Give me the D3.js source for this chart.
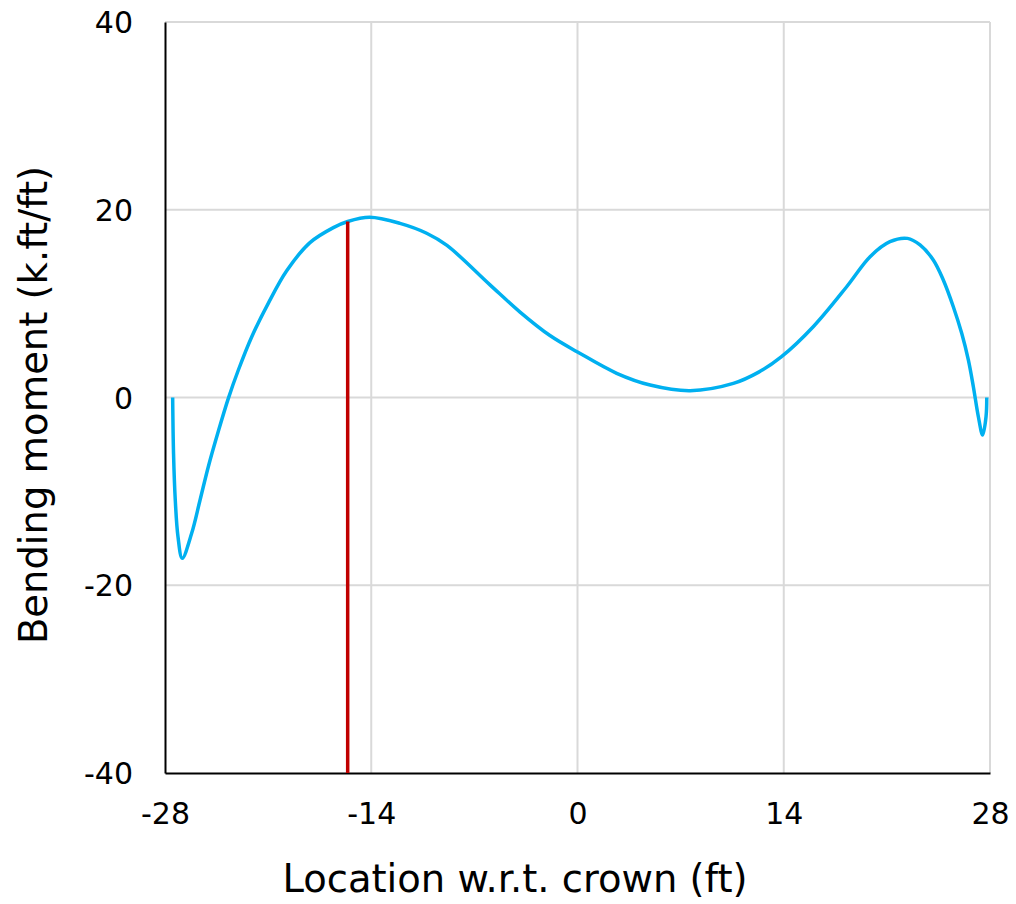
<!DOCTYPE html>
<html>
<head>
<meta charset="utf-8">
<script src="https://cdn.jsdelivr.net/npm/d3@7"></script>
<style>
  body { margin: 0; background: #fff; }
  text { font-family: "DejaVu Sans", Verdana, sans-serif; fill: #000; }
</style>
</head>
<body>
<script>
const W = 1016, H = 904;
const margin = {top: 22, right: 26, bottom: 131, left: 165};

// location w.r.t. crown (ft)
const locationFt = [-27.48, -27.42, -27.3, -27.12, -26.83, -26.19, -25.62, -25.06, -24.38,
  -23.7, -23.02, -22.11, -20.99, -19.74, -18.16, -16.57, -15.6, -14.1, -12.05, -10.24,
  -8.86, -5.94, -3.9, -1.87, 0, 2.66, 4.93, 7.64, 10.58, 12.3, 13.85, 16, 18.27, 19.86,
  21.21, 22.4, 23.25, 24.15, 24.83, 25.51, 26.08, 26.53, 26.87, 27.21, 27.5, 27.73, 27.78];
// bending moment (k.ft/ft)
const moment = [0, -6, -11, -14.8, -17.13, -14.47, -10.92, -7.37, -3.6,
  -0.09, 2.93, 6.48, 10.03, 13.5, 16.5, 18.1, 18.75, 19.2, 18.55, 17.5,
  16.2, 12.0, 9.1, 6.6, 4.85, 2.58, 1.33, 0.73, 1.5, 2.7, 4.35, 7.54, 11.8, 15.0,
  16.6, 16.95, 16.25, 14.65, 12.52, 9.67, 6.84, 4.0, 1.15, -2.05, -4.0, -2.05, 0];

const markerX = -15.6;
const markerTop = 18.75;

const xTicks = [-28, -14, 0, 14, 28];
const yTicks = [-40, -20, 0, 20, 40];

const svg = d3.select('body').append('svg')
  .attr('width', W)
  .attr('height', H);

const x = d3.scaleLinear().domain([-28, 28]).range([margin.left, W - margin.right]);
const y = d3.scaleLinear().domain([-40, 40]).range([H - margin.bottom, margin.top]);

// gridlines
svg.append('g')
  .selectAll('line')
  .data(xTicks.slice(1))
  .enter().append('line')
  .attr('x1', d => x(d)).attr('x2', d => x(d))
  .attr('y1', y(-40)).attr('y2', y(40))
  .attr('stroke', '#d9d9d9').attr('stroke-width', 2);

svg.append('g')
  .selectAll('line')
  .data(yTicks.slice(1))
  .enter().append('line')
  .attr('x1', x(-28)).attr('x2', x(28))
  .attr('y1', d => y(d)).attr('y2', d => y(d))
  .attr('stroke', '#d9d9d9').attr('stroke-width', 2);

// axes
const fmt = d => String(d);
const xAxis = svg.append('g')
  .attr('transform', `translate(0,${y(-40)})`)
  .call(d3.axisBottom(x).tickValues(xTicks).tickSize(0).tickPadding(30).tickFormat(fmt));
const yAxis = svg.append('g')
  .attr('transform', `translate(${x(-28)},0)`)
  .call(d3.axisLeft(y).tickValues(yTicks).tickSize(0).tickPadding(32).tickFormat(fmt));

[xAxis, yAxis].forEach(a => {
  a.select('.domain').attr('stroke', '#000').attr('stroke-width', 2);
  a.selectAll('text').attr('font-size', '30px')
    .attr('font-family', '"DejaVu Sans", Verdana, sans-serif').attr('fill', '#000');
});
yAxis.selectAll('text').attr('dy', '0.35em');

// curve
const pts = locationFt.map((d, i) => [d, moment[i]]);
const line = d3.line()
  .x(d => x(d[0]))
  .y(d => y(d[1]))
  .curve(d3.curveCatmullRom.alpha(0.5));

svg.append('path')
  .attr('d', line(pts))
  .attr('fill', 'none')
  .attr('stroke', '#00b0f0')
  .attr('stroke-width', 3.5)
  .attr('stroke-linejoin', 'round');

// red marker
svg.append('line')
  .attr('x1', x(markerX)).attr('x2', x(markerX))
  .attr('y1', y(-40)).attr('y2', y(markerTop))
  .attr('stroke', '#c00000')
  .attr('stroke-width', 3.5);

// titles
svg.append('text')
  .attr('x', 515)
  .attr('y', 892)
  .attr('text-anchor', 'middle')
  .attr('font-size', '38.5px')
  .text('Location w.r.t. crown (ft)');

svg.append('text')
  .attr('transform', `translate(47,405) rotate(-90)`)
  .attr('text-anchor', 'middle')
  .attr('font-size', '38.5px')
  .text('Bending moment (k.ft/ft)');
</script>
</body>
</html>
